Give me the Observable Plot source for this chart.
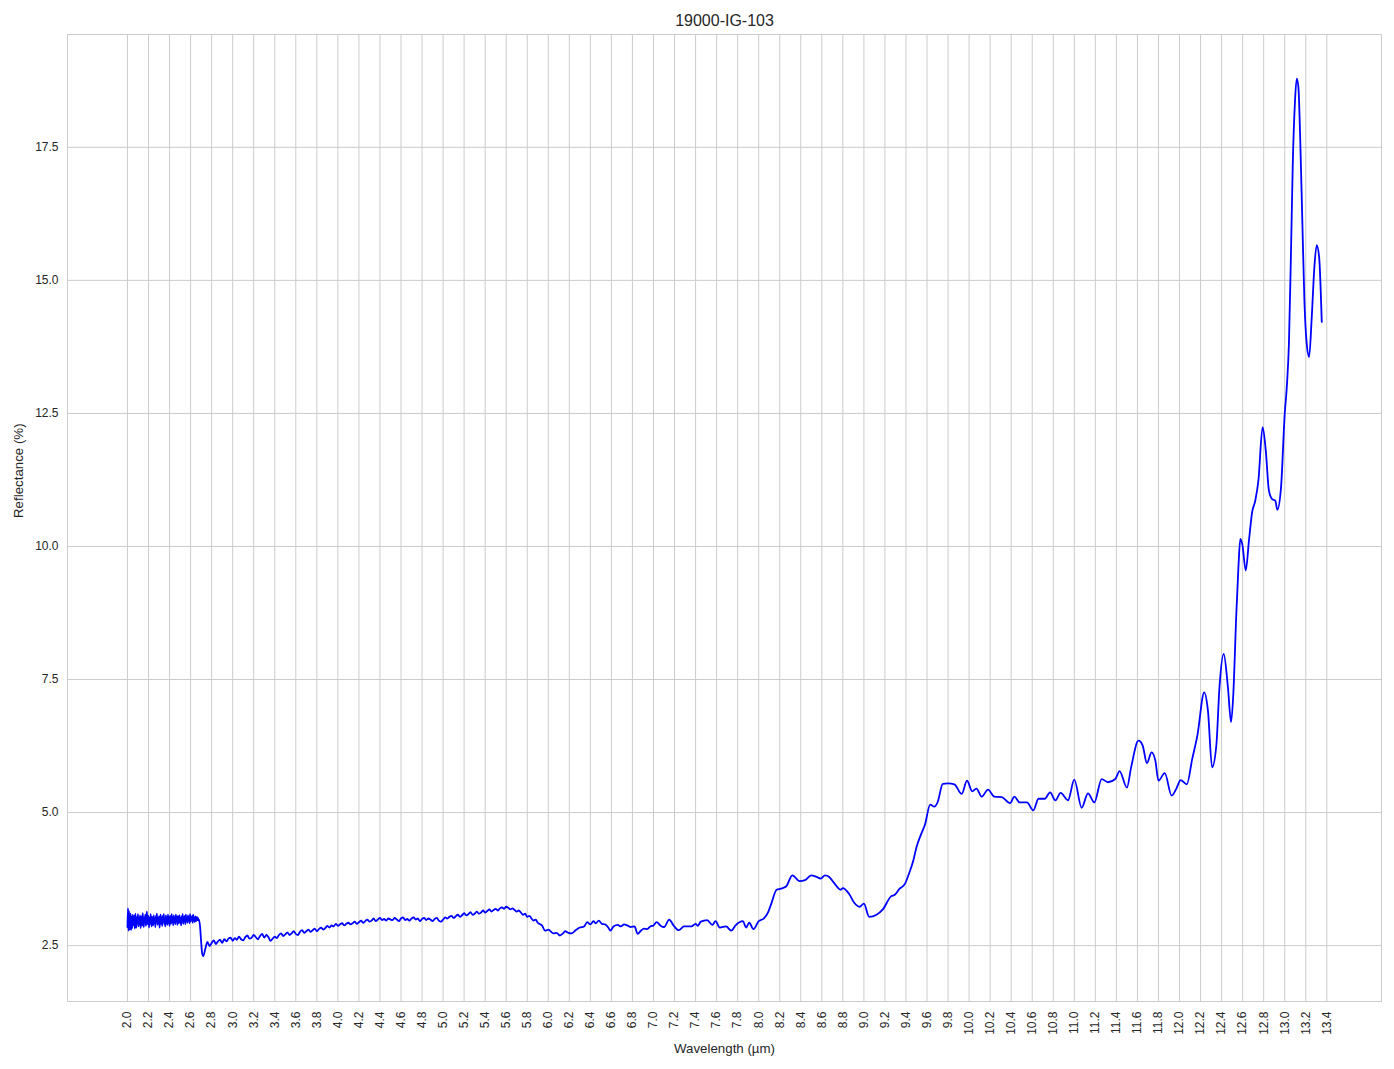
<!DOCTYPE html>
<html>
<head>
<meta charset="utf-8">
<script src="https://cdn.jsdelivr.net/npm/d3@7"></script>
<script src="https://cdn.jsdelivr.net/npm/@observablehq/plot@0.6"></script>
<style>
  html, body { margin: 0; padding: 0; background: #ffffff; }
  #chart svg { display: block; }
</style>
</head>
<body>
<div id="chart"></div>
<script>
// ---------------- data ----------------
const chartTitle = "19000-IG-103";
const xLabel = "Wavelength (µm)";
const yLabel = "Reflectance (%)";

const xTicks = [2.0, 2.2, 2.4, 2.6, 2.8, 3.0, 3.2, 3.4, 3.6, 3.8, 4.0, 4.2, 4.4, 4.6, 4.8,
  5.0, 5.2, 5.4, 5.6, 5.8, 6.0, 6.2, 6.4, 6.6, 6.8, 7.0, 7.2, 7.4, 7.6, 7.8, 8.0, 8.2, 8.4,
  8.6, 8.8, 9.0, 9.2, 9.4, 9.6, 9.8, 10.0, 10.2, 10.4, 10.6, 10.8, 11.0, 11.2, 11.4, 11.6,
  11.8, 12.0, 12.2, 12.4, 12.6, 12.8, 13.0, 13.2, 13.4];
const yTicks = [2.5, 5.0, 7.5, 10.0, 12.5, 15.0, 17.5];

// noisy start of the spectrum, sampled every 0.005 µm from 2.000 µm
const noisyStart = 2.0, noisyStep = 0.005;
const noisyReflectance = [
  2.85, 3.20, 2.78, 3.15, 2.80, 2.95, 3.10, 2.79, 3.04, 2.83,
  3.08, 2.88, 2.99, 3.06, 2.82, 3.10, 2.90, 2.84, 3.04, 2.94,
  3.09, 2.86, 3.01, 2.92, 3.07, 2.83, 2.97, 3.05, 2.88, 3.11,
  2.93, 2.85, 3.03, 2.98, 3.08, 2.87, 3.00, 3.14, 2.90, 2.96,
  3.06, 2.84, 3.02, 2.91, 3.09, 2.95, 2.86, 3.04, 2.99, 2.88,
  3.07, 2.93, 3.01, 2.85, 3.06, 2.97, 3.10, 2.89, 3.02, 2.92,
  3.05, 2.84, 2.98, 3.08, 2.91, 3.03, 2.87, 3.06, 2.95, 3.09,
  2.90, 3.00, 2.86, 3.07, 2.96, 3.02, 2.89, 3.08, 2.93, 3.04,
  2.87, 3.06, 2.98, 2.91, 3.09, 2.94, 3.03, 2.88, 3.07, 2.97,
  3.01, 2.90, 3.08, 2.95, 3.04, 2.89, 3.06, 2.99, 2.92, 3.07,
  2.94, 3.02, 2.88, 3.05, 2.97, 3.09, 2.91, 3.03, 2.95, 3.06,
  2.90, 3.08, 2.96, 3.01, 2.93, 3.07, 2.98, 3.04, 2.92, 3.09,
  2.95, 3.03, 2.99, 3.06, 2.93, 3.08, 2.97, 3.02, 2.94, 3.05,
  3.00, 2.96, 3.04, 2.98, 3.02, 2.97, 2.99
];

// the drop near 2.7 µm
const dropSpectrum = [[2.69, 2.86], [2.70, 2.58], [2.71, 2.35]];

// slow rise, sampled every 0.02 µm from 2.72 µm
const risingStart = 2.72, risingStep = 0.02;
const risingReflectance = [
  2.30, 2.44, 2.57, 2.49, 2.55, 2.60, 2.53, 2.58, 2.61, 2.55,
  2.62, 2.58, 2.63, 2.65, 2.59, 2.64, 2.61, 2.67, 2.62, 2.60,
  2.66, 2.69, 2.63, 2.65, 2.70, 2.66, 2.62, 2.68, 2.72, 2.65,
  2.70, 2.66, 2.59, 2.63, 2.67, 2.64, 2.70, 2.73, 2.68, 2.71,
  2.75, 2.70, 2.73, 2.77, 2.72, 2.70, 2.76, 2.79, 2.74, 2.77,
  2.80, 2.76, 2.79, 2.82, 2.77, 2.81, 2.84, 2.80, 2.83, 2.87,
  2.84, 2.88, 2.86, 2.91, 2.87, 2.90, 2.92, 2.88, 2.91, 2.93,
  2.90, 2.92, 2.95, 2.91, 2.94, 2.97, 2.93, 2.96, 2.99, 2.95,
  2.97, 3.01, 2.96, 2.99, 3.02, 2.98, 3.00, 2.97, 3.01, 2.99,
  2.98, 3.02, 2.99, 2.96, 3.01, 3.03, 2.98, 3.00, 2.97, 3.01,
  3.03, 2.99, 3.01, 2.96, 3.00, 3.02, 2.98, 3.01, 2.99, 2.96,
  3.00, 3.02, 2.97, 2.95, 2.99, 3.03, 3.01, 3.04, 3.06, 3.02,
  3.05, 3.08, 3.04, 3.07, 3.11, 3.07, 3.09, 3.13, 3.08, 3.10,
  3.14, 3.10, 3.12, 3.16, 3.12, 3.15, 3.18, 3.14, 3.17, 3.19,
  3.16, 3.20, 3.22, 3.19, 3.23, 3.21, 3.18, 3.20, 3.17, 3.14,
  3.16, 3.12, 3.08, 3.10, 3.04, 3.06, 3.01, 2.97, 2.99, 2.93
];

// smoother long-wavelength part: [wavelength µm, reflectance %]
const tailSpectrum = [
  [5.94, 2.88], [5.97, 2.78], [6.00, 2.80], [6.05, 2.73], [6.08, 2.74], [6.11, 2.69],
  [6.14, 2.73], [6.16, 2.77], [6.19, 2.74], [6.22, 2.73], [6.26, 2.79], [6.30, 2.84],
  [6.34, 2.86], [6.37, 2.94], [6.40, 2.90], [6.43, 2.96], [6.45, 2.92], [6.48, 2.97],
  [6.51, 2.91], [6.54, 2.90], [6.57, 2.84], [6.59, 2.78], [6.62, 2.86], [6.66, 2.89],
  [6.69, 2.86], [6.72, 2.90], [6.75, 2.88], [6.78, 2.85], [6.82, 2.86], [6.85, 2.72],
  [6.88, 2.78], [6.91, 2.82], [6.94, 2.81], [6.97, 2.86], [7.00, 2.88], [7.03, 2.94],
  [7.07, 2.87], [7.10, 2.85], [7.15, 2.99], [7.19, 2.88], [7.24, 2.79], [7.29, 2.86],
  [7.36, 2.86], [7.40, 2.91], [7.42, 2.87], [7.45, 2.95], [7.51, 2.98], [7.56, 2.89],
  [7.59, 2.96], [7.63, 2.84], [7.69, 2.86], [7.74, 2.78], [7.78, 2.88], [7.85, 2.96],
  [7.88, 2.84], [7.91, 2.93], [7.95, 2.81], [8.00, 2.96], [8.05, 3.01], [8.09, 3.13],
  [8.12, 3.29], [8.17, 3.55], [8.21, 3.57], [8.26, 3.61], [8.32, 3.82], [8.39, 3.71],
  [8.44, 3.73], [8.50, 3.82], [8.55, 3.79], [8.59, 3.76], [8.63, 3.82], [8.67, 3.79],
  [8.72, 3.67], [8.78, 3.55], [8.80, 3.58], [8.86, 3.47], [8.91, 3.30], [8.96, 3.23],
  [9.00, 3.29], [9.05, 3.04], [9.12, 3.08], [9.18, 3.18], [9.26, 3.43], [9.29, 3.45],
  [9.34, 3.57], [9.39, 3.66], [9.43, 3.86], [9.47, 4.10], [9.50, 4.35], [9.545, 4.60],
  [9.58, 4.77], [9.63, 5.15], [9.67, 5.11], [9.70, 5.19], [9.75, 5.54], [9.80, 5.55],
  [9.86, 5.53], [9.93, 5.35], [9.98, 5.60], [10.03, 5.40], [10.07, 5.45], [10.12, 5.30],
  [10.18, 5.43], [10.24, 5.30], [10.31, 5.29], [10.39, 5.18], [10.43, 5.30], [10.48, 5.19],
  [10.55, 5.19], [10.61, 5.04], [10.66, 5.26], [10.72, 5.26], [10.77, 5.38], [10.82, 5.23],
  [10.87, 5.37], [10.94, 5.23], [11.00, 5.62], [11.07, 5.09], [11.13, 5.36], [11.19, 5.19],
  [11.26, 5.63], [11.32, 5.57], [11.39, 5.63], [11.43, 5.78], [11.50, 5.47], [11.54, 5.85],
  [11.61, 6.35], [11.65, 6.26], [11.69, 5.93], [11.735, 6.13], [11.77, 5.98], [11.80, 5.60],
  [11.86, 5.74], [11.925, 5.32], [11.97, 5.45], [12.01, 5.61], [12.07, 5.53], [12.12, 6.00],
  [12.17, 6.45], [12.235, 7.26], [12.27, 6.92], [12.31, 5.85], [12.35, 6.26], [12.38, 7.36],
  [12.42, 7.98], [12.46, 7.36], [12.49, 6.70], [12.51, 7.17], [12.54, 8.73], [12.56, 9.61],
  [12.578, 10.14], [12.597, 10.04], [12.63, 9.55], [12.66, 10.11], [12.69, 10.64], [12.72, 10.86],
  [12.75, 11.24], [12.79, 12.24], [12.82, 11.80], [12.85, 11.05], [12.88, 10.89], [12.91, 10.86],
  [12.93, 10.69], [12.965, 11.11], [13.00, 12.49], [13.02, 13.00], [13.04, 13.81], [13.06, 15.56],
  [13.076, 17.13], [13.098, 18.38], [13.114, 18.79], [13.13, 18.63], [13.146, 17.76], [13.168, 16.07],
  [13.187, 14.63], [13.209, 13.81], [13.232, 13.56], [13.257, 14.31], [13.282, 15.25], [13.304, 15.66],
  [13.327, 15.44], [13.352, 14.22]
];

// ---------------- assemble ----------------
const spectrum = [
  ...noisyReflectance.map((r, i) => ({w: +(noisyStart + i * noisyStep).toFixed(3), r})),
  ...dropSpectrum.map(([w, r]) => ({w, r})),
  ...risingReflectance.map((r, i) => ({w: +(risingStart + i * risingStep).toFixed(3), r})),
  ...tailSpectrum.map(([w, r]) => ({w, r}))
];

const gridColor = "#cccccc";
const textColor = "#262626";
const fontFamily = "'Liberation Sans', Arial, Helvetica, sans-serif";

const chart = Plot.plot({
  width: 1394,
  height: 1069,
  marginLeft: 67,
  marginRight: 13,
  marginTop: 34,
  marginBottom: 68,
  style: {fontFamily, fontSize: "12px", color: textColor, background: "#ffffff"},
  x: {domain: [1.43, 13.92], label: null},
  y: {domain: [1.45, 19.62], label: null},
  marks: [
    Plot.gridX(xTicks, {stroke: gridColor, strokeOpacity: 1, strokeWidth: 1}),
    Plot.gridY(yTicks, {stroke: gridColor, strokeOpacity: 1, strokeWidth: 1}),
    Plot.frame({stroke: gridColor, strokeWidth: 1}),
    Plot.axisX(xTicks, {
      tickSize: 0, tickPadding: 10, tickRotate: -90,
      tickFormat: d3.format(".1f"), label: null, fontSize: 12, fill: textColor
    }),
    Plot.axisY(yTicks, {
      tickSize: 0, tickPadding: 9,
      tickFormat: d3.format(".1f"), label: null, fontSize: 12, fill: textColor
    }),
    Plot.line(spectrum, {x: "w", y: "r", stroke: "#0000ff", strokeWidth: 1.8, curve: "monotone-x"}),
    Plot.text([chartTitle], {frameAnchor: "top", lineAnchor: "middle", dy: -14, fontSize: 16, fill: textColor}),
    Plot.text([xLabel], {frameAnchor: "bottom", lineAnchor: "middle", dy: 47, fontSize: 13.3, fill: textColor}),
    Plot.text([yLabel], {frameAnchor: "left", lineAnchor: "middle", dx: -49, rotate: -90, fontSize: 13.3, fill: textColor})
  ]
});

document.getElementById("chart").append(chart);
</script>
</body>
</html>
